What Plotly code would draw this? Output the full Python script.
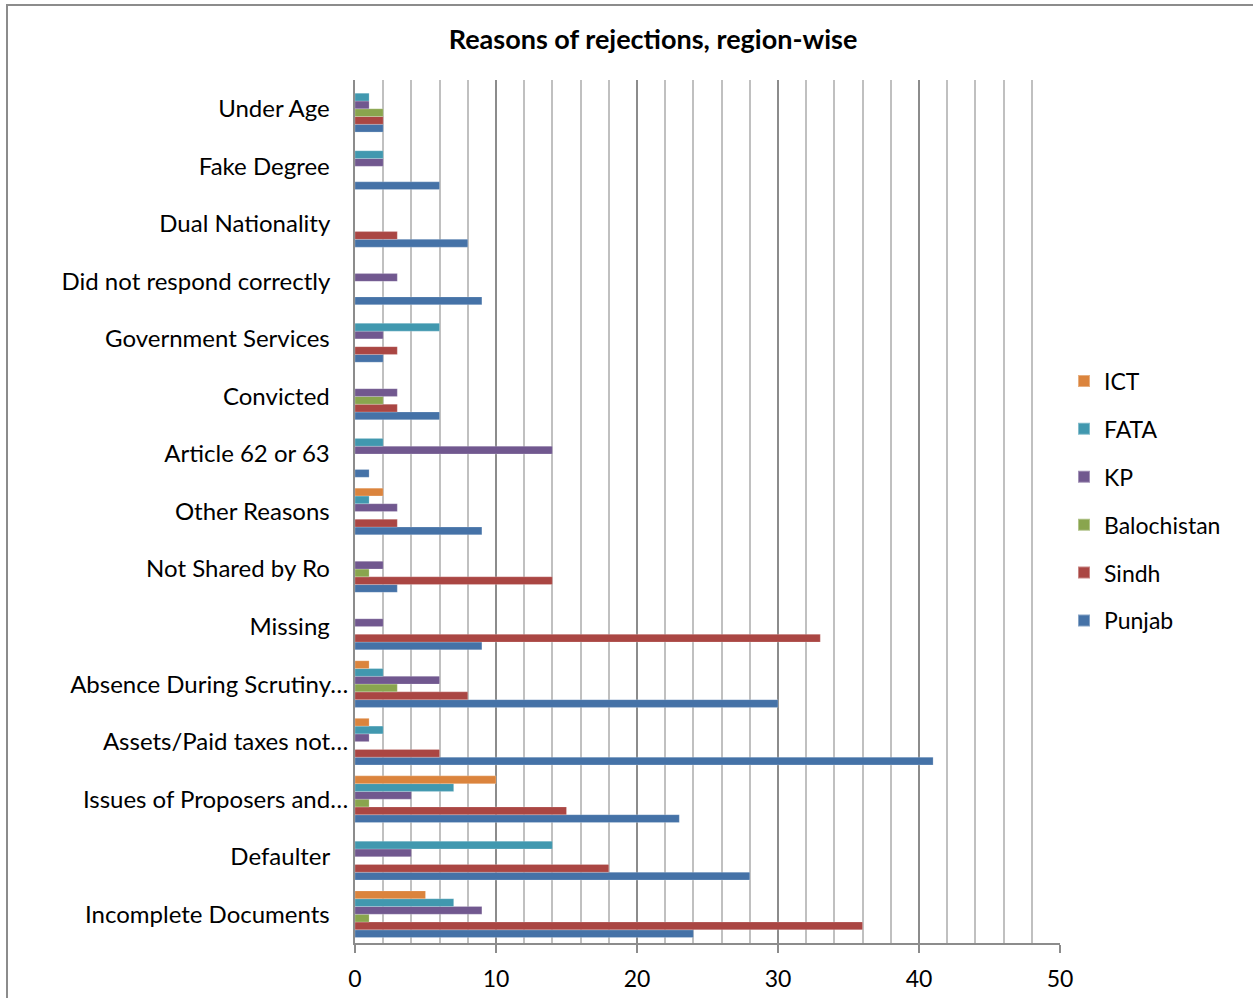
import plotly.graph_objects as go

# Categories listed bottom -> top
categories = [
    "Incomplete Documents",
    "Defaulter",
    "Issues of Proposers and…",
    "Assets/Paid taxes not…",
    "Absence During Scrutiny…",
    "Missing",
    "Not Shared by Ro",
    "Other Reasons",
    "Article 62 or 63",
    "Convicted",
    "Government Services",
    "Did not respond correctly",
    "Dual Nationality",
    "Fake Degree",
    "Under Age",
]

punjab      = [24, 28, 23, 41, 30, 9, 3, 9, 1, 6, 2, 9, 8, 6, 2]
sindh       = [36, 18, 15, 6, 8, 33, 14, 3, 0, 3, 3, 0, 3, 0, 2]
balochistan = [1, 0, 1, 0, 3, 0, 1, 0, 0, 2, 0, 0, 0, 0, 2]
kp          = [9, 4, 4, 1, 6, 2, 2, 3, 14, 3, 2, 3, 0, 2, 1]
fata        = [7, 14, 7, 2, 2, 0, 0, 1, 2, 0, 6, 0, 0, 2, 1]
ict         = [5, 0, 10, 1, 1, 0, 0, 2, 0, 0, 0, 0, 0, 0, 0]

series = [
    ("Punjab", punjab, "#4572A7"),
    ("Sindh", sindh, "#AA4643"),
    ("Balochistan", balochistan, "#89A54E"),
    ("KP", kp, "#71588F"),
    ("FATA", fata, "#4198AF"),
    ("ICT", ict, "#DB843D"),
]

x_ticks = [0, 10, 20, 30, 40, 50]

FONT = "Lato, Calibri, Carlito, sans-serif"

# Truncated labels sit further right in the original; pad the others
PAD = "\u00a0" * 3
y_ticktext = [c if c.endswith("…") else c + PAD for c in categories]

fig = go.Figure()
n = len(series)
for i, (name, vals, col) in enumerate(series):
    fig.add_trace(go.Bar(
        y=categories, x=vals, name=name, orientation="h",
        legendgroup=name, legendrank=1000 + (n - i),
        marker=dict(color=col, line=dict(color="rgba(255,255,255,0.35)", width=0.6)),
    ))

fig.update_layout(
    width=1253, height=998,
    margin=dict(l=355, r=193, t=80, b=55, autoexpand=False),
    paper_bgcolor="white", plot_bgcolor="white",
    barmode="group", bargap=0.19, bargroupgap=0,
    title=dict(text="<b>Reasons of rejections, region-wise</b>",
               x=653 / 1253, xanchor="center",
               y=1 - 40 / 998, yanchor="middle",
               font=dict(family=FONT, size=27, color="black")),
    font=dict(family=FONT, size=17, color="black"),
    legend=dict(traceorder="grouped", x=(1064 - 355) / 705, xanchor="left",
                y=(943 - 501) / 863, yanchor="middle",
                font=dict(family=FONT, size=23, color="black"),
                itemwidth=30, tracegroupgap=15, itemsizing="constant"),
    showlegend=True,
)

fig.update_xaxes(
    range=[0, 50], tickvals=x_ticks, ticktext=[str(v) for v in x_ticks],
    showgrid=True, gridcolor="#8C8C8C", gridwidth=1.5,
    minor=dict(dtick=2, showgrid=True, gridcolor="#C0C0C0", gridwidth=1.5),
    showline=True, linecolor="#8C8C8C", linewidth=1.5,
    ticks="outside", ticklen=8, tickcolor="#8C8C8C", tickwidth=1.5,
    ticklabelstandoff=7, automargin=False,
    tickfont=dict(family=FONT, size=23, color="black"),
    zeroline=False, fixedrange=True,
)
fig.update_yaxes(
    categoryorder="array", categoryarray=categories,
    tickmode="array", tickvals=categories, ticktext=y_ticktext,
    showline=True, linecolor="#8C8C8C", linewidth=2,
    showgrid=False, ticks="", ticklabelstandoff=0, automargin=False,
    tickfont=dict(family=FONT, size=24, color="black"),
    fixedrange=True,
)

# Outer chart border
fig.add_shape(type="rect", xref="paper", yref="paper",
              x0=(7 - 355) / 705, x1=(1262 - 355) / 705,
              y0=-(1010 - 943) / 863, y1=1 + (80 - 5) / 863,
              line=dict(color="#8C8C8C", width=2), fillcolor="rgba(0,0,0,0)",
              layer="below")

fig.write_html("out.html")
